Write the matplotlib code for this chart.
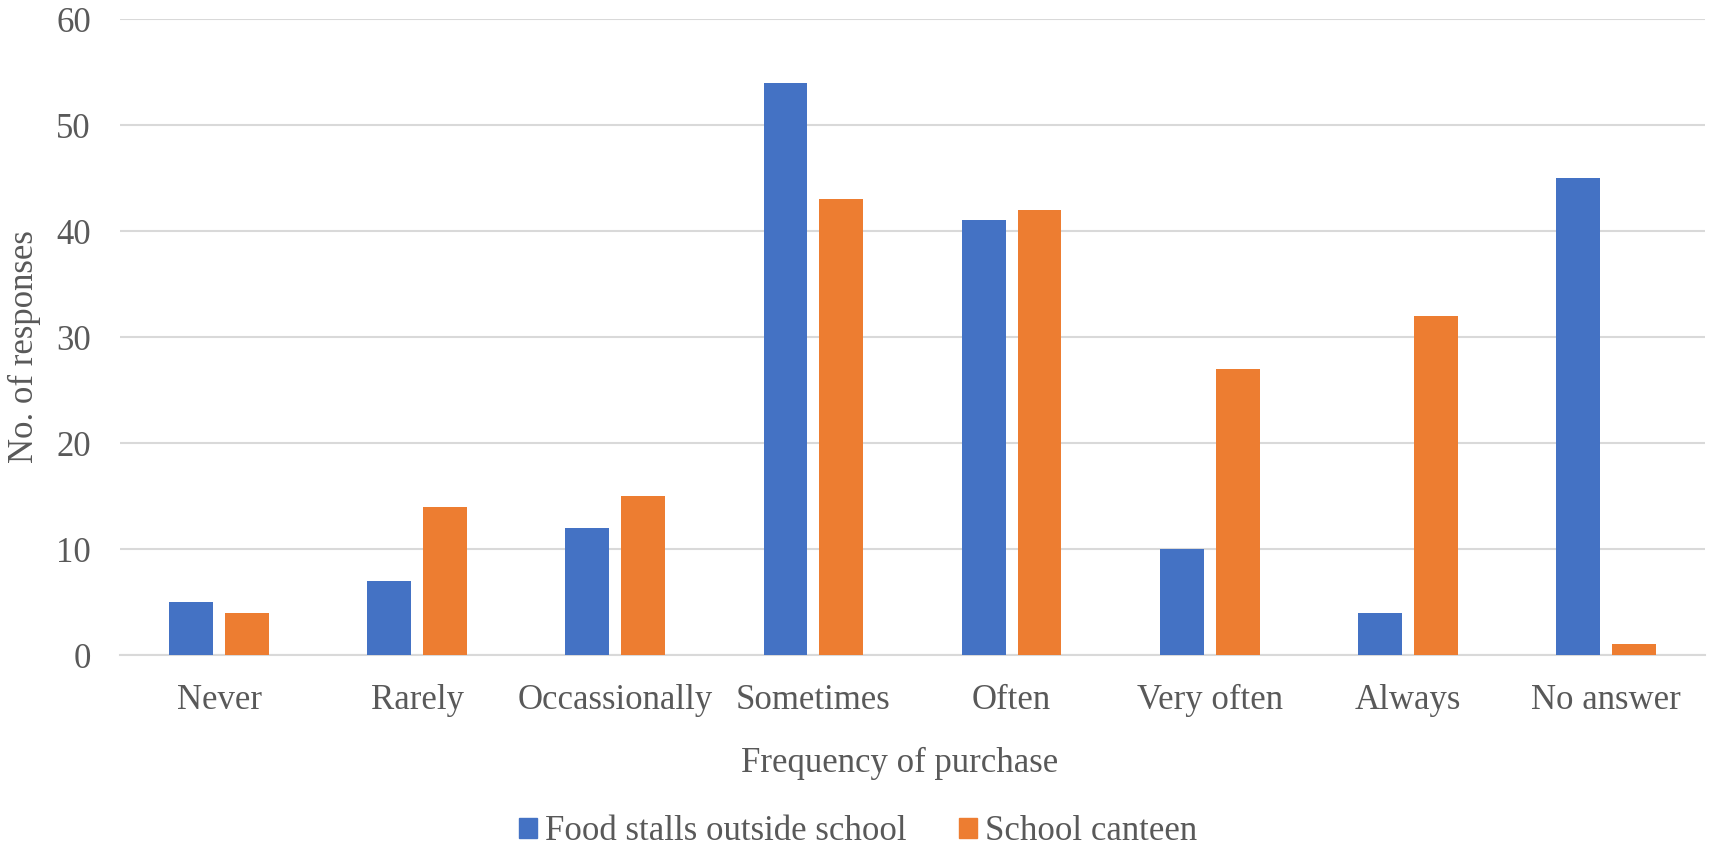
import matplotlib
matplotlib.use("Agg")
import matplotlib.pyplot as plt
import numpy as np
from matplotlib.patches import Patch

categories = ["Never", "Rarely", "Occassionally", "Sometimes", "Often", "Very often", "Always", "No answer"]
food_stalls = [5, 7, 12, 54, 41, 10, 4, 45]
school_canteen = [4, 14, 15, 43, 42, 27, 32, 1]
series_names = ["Food stalls outside school", "School canteen"]
yticks = [0, 10, 20, 30, 40, 50, 60]

blue = "#4472C4"
orange = "#ED7D31"
txt = "#595959"
grid = "#D9D9D9"

plt.rcParams['font.family'] = ['Liberation Serif', 'DejaVu Serif']

fig = plt.figure(figsize=(17.13, 8.5), dpi=100)
ax = fig.add_axes([120/1713, 1-655/850, (1705-120)/1713, (655-19)/850])

x = np.arange(len(categories))
w = 0.222
off = 0.141
ax.bar(x - off, food_stalls, w, color=blue, zorder=3)
ax.bar(x + off, school_canteen, w, color=orange, zorder=3)

ax.set_xlim(-0.5, len(categories) - 0.5)
ax.set_ylim(0, 60)
ax.set_yticks(yticks)
ax.set_xticks(x)
ax.set_xticklabels(categories)
for s in ax.spines.values():
    s.set_visible(False)
ax.yaxis.grid(True, color=grid, linewidth=1.5, zorder=0)
ax.set_axisbelow(True)
ax.tick_params(axis='both', length=0, labelsize=25, labelcolor=txt)
ax.tick_params(axis='y', pad=21)
ax.tick_params(axis='x', pad=21)
ax.axhline(0, color=grid, linewidth=1.5, zorder=1, clip_on=False)

fig.text(24/1713, 1-347/850, "No. of responses", rotation=90, ha='center', va='center',
         fontsize=25, color=txt)
fig.text(900/1713, 1-763/850, "Frequency of purchase", ha='center', va='center',
         fontsize=25, color=txt)

handles = [Patch(color=blue), Patch(color=orange)]
leg = fig.legend(handles, series_names, loc='center', bbox_to_anchor=(858/1713, 1-832/850),
                 ncol=2, frameon=False, fontsize=25, handlelength=0.52, handleheight=0.52,
                 handletextpad=0.23, columnspacing=1.53, labelcolor=txt)

fig.savefig("out.png", dpi=100)
